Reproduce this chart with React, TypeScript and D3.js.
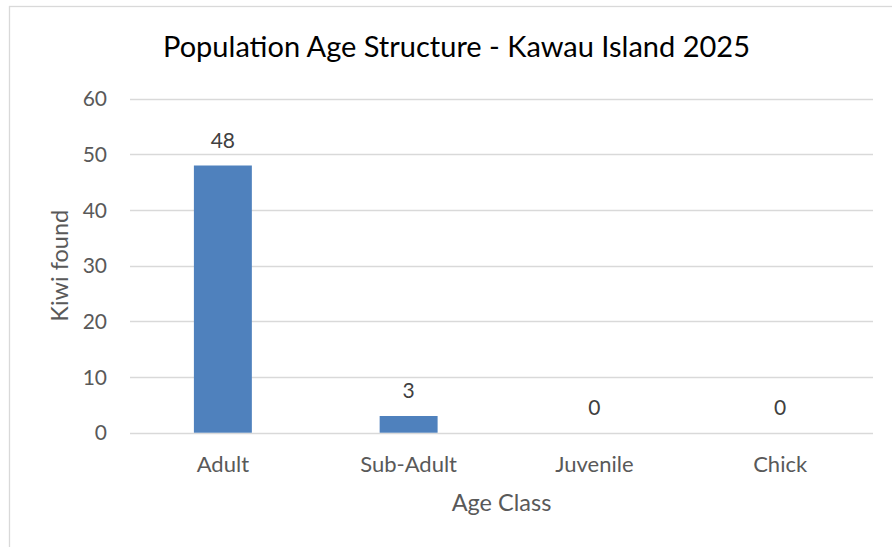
import React from "react";
import * as d3 from "d3";

const categories = ["Adult", "Sub-Adult", "Juvenile", "Chick"];
const values = [48, 3, 0, 0];
const yTicks = [0, 10, 20, 30, 40, 50, 60];
const title = "Population Age Structure - Kawau Island 2025";
const xTitle = "Age Class";
const yTitle = "Kiwi found";

const W = 892;
const H = 547;
const FONT = "Lato, 'Open Sans', sans-serif";

export default function App() {
  const plot = { left: 130, right: 873, top: 98.7, bottom: 432.7 };
  const x = d3
    .scaleBand<string>()
    .domain(categories)
    .range([plot.left, plot.right])
    .paddingInner(0.688)
    .paddingOuter(0.344);
  const y = d3.scaleLinear().domain([0, 60]).range([plot.bottom, plot.top]);
  const cx = (c: string) => (x(c) as number) + x.bandwidth() / 2;

  return (
    <svg
      width={W}
      height={H}
      style={{ position: "absolute", left: 0, top: 0, background: "#fff" }}
      fontFamily={FONT}
    >
      <rect x={0} y={0} width={W} height={H} fill="#fff" />
      <rect x={9.5} y={6.5} width={894} height={600} fill="#fff" stroke="#d9d9d9" strokeWidth={1.3} />
      <text x={456.5} y={57} textAnchor="middle" fontSize={29} fill="#000">
        {title}
      </text>
      {yTicks.map((t) => (
        <g key={t}>
          <line
            x1={plot.left}
            x2={plot.right}
            y1={Math.round(y(t)) + 0.5}
            y2={Math.round(y(t)) + 0.5}
            stroke="#d9d9d9"
            strokeWidth={1.3}
          />
          <text x={107} y={y(t)} dy="0.36em" textAnchor="end" fontSize={21} fill="#595959">
            {t}
          </text>
        </g>
      ))}
      {categories.map((c, i) => (
        <g key={c}>
          {values[i] > 0 && (
            <rect
              x={x(c)}
              y={y(values[i])}
              width={x.bandwidth()}
              height={plot.bottom - y(values[i])}
              fill="#4f81bd"
            />
          )}
          <text x={cx(c)} y={y(values[i]) - 18} textAnchor="middle" fontSize={21} fill="#404040">
            {values[i]}
          </text>
          <text x={cx(c)} y={472.3} textAnchor="middle" fontSize={22} fill="#595959">
            {c}
          </text>
        </g>
      ))}
      <text x={(plot.left + plot.right) / 2} y={510.7} textAnchor="middle" fontSize={23.5} fill="#595959">
        {xTitle}
      </text>
      <text
        transform={`translate(68,${(plot.top + plot.bottom) / 2}) rotate(-90)`}
        textAnchor="middle"
        fontSize={23.5}
        fill="#595959"
      >
        {yTitle}
      </text>
    </svg>
  );
}
